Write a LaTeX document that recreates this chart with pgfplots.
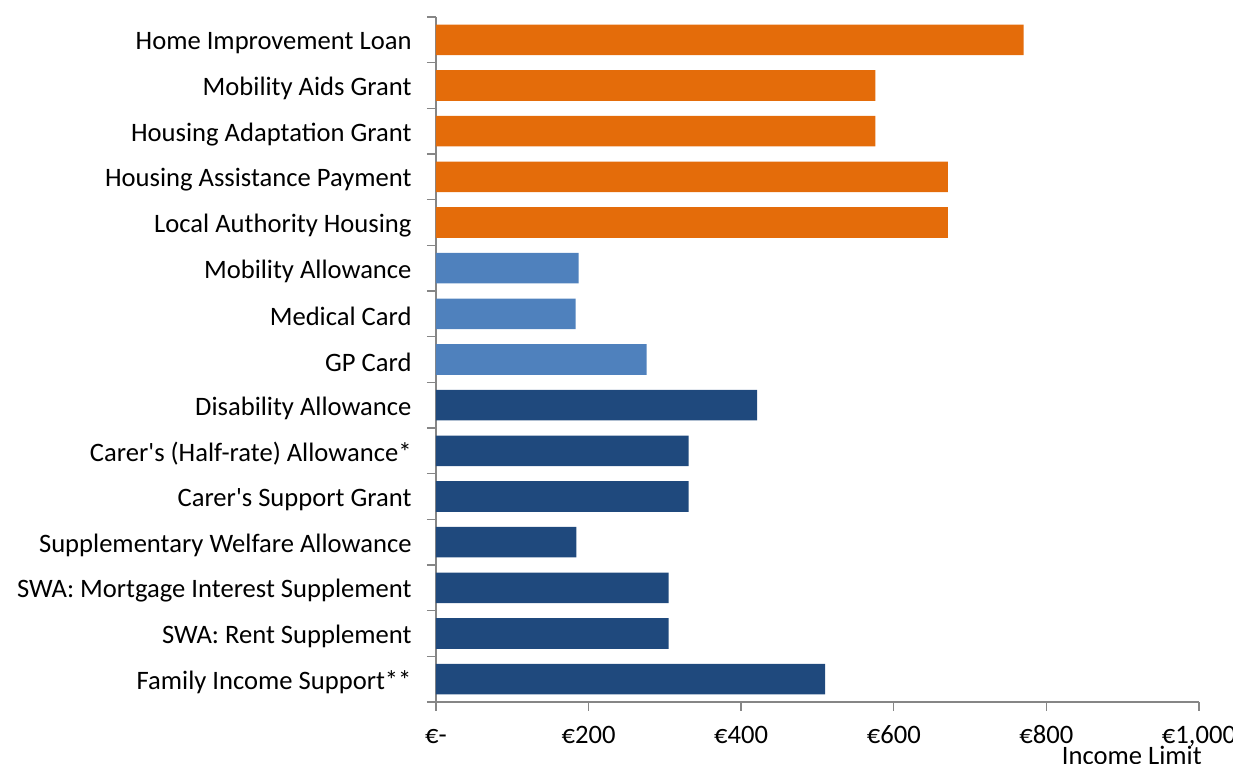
\documentclass[border=0pt]{standalone}
\usepackage{fontspec}
\setmainfont{Carlito}
\usepackage{pgfplots}
\pgfplotsset{compat=1.18}
\definecolor{cOrange}{HTML}{E46C0A}
\definecolor{cLight}{HTML}{4F81BD}
\definecolor{cDark}{HTML}{1F497D}
\definecolor{cAxis}{HTML}{868686}
\begin{document}
\begin{tikzpicture}
\path[use as bounding box] (-218pt,-31pt) rectangle (398.5pt,351pt);
\begin{axis}[
  scale only axis,
  width=381.5pt, height=342.5pt,
  xmin=0, xmax=1000, ymin=-0.5, ymax=14.5,
  axis lines*=left,
  axis line style={draw=cAxis, line width=0.9pt},
  tick style={draw=cAxis, line width=0.7pt},
  tick align=outside,
  major tick length=4.5pt,
  xtick={0,200,400,600,800,1000},
  xticklabels={€-,€200,€400,€600,€800,{€1,000}},
  xticklabel style={text height=9pt, text depth=2pt, yshift=-3.5pt},
  ytick={-0.5,0.5,...,14.5},
  yticklabels={,,,,,,,,,,,,,,,,},
  extra y ticks={0,1,...,14},
  extra y tick labels={Family Income Support**,SWA: Rent Supplement,SWA: Mortgage Interest Supplement,Supplementary Welfare Allowance,Carer\textquotesingle s Support Grant,Carer\textquotesingle s (Half-rate) Allowance*,Disability Allowance,GP Card,Medical Card,Mobility Allowance,Local Authority Housing,Housing Assistance Payment,Housing Adaptation Grant,Mobility Aids Grant,Home Improvement Loan},
  extra y tick style={major tick length=0pt, yticklabel style={xshift=-8.7pt, yshift=-1.5pt}},
  tick label style={font=\fontsize{13.3}{15}\selectfont},
  xlabel={Income Limit},
  xlabel style={at={(axis description cs:0.912,0)}, anchor=base, yshift=-31.5pt, font=\fontsize{13.3}{15}\selectfont},
  clip=false,
]
\addplot[xbar, bar width=0.67, bar shift=0pt, fill=cDark, draw=none] coordinates {
  (510,0) (305,1) (305,2) (184,3) (331,4) (331,5) (421,6)};
\addplot[xbar, bar width=0.67, bar shift=0pt, fill=cLight, draw=none] coordinates {
  (276,7) (183,8) (187,9)};
\addplot[xbar, bar width=0.67, bar shift=0pt, fill=cOrange, draw=none] coordinates {
  (671,10) (671,11) (576,12) (576,13) (770,14)};
\end{axis}
\end{tikzpicture}
\end{document}
